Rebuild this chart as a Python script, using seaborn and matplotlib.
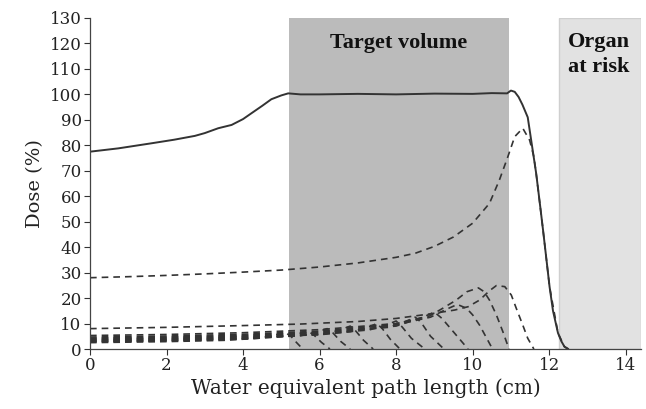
import matplotlib
matplotlib.use("Agg")
import matplotlib.pyplot as plt
import seaborn as sns
import pandas as pd

# ---- data ----
x_ticks = [0, 2, 4, 6, 8, 10, 12, 14]
y_ticks = list(range(0, 131, 10))

target_volume = (5.2, 10.95)
organ_at_risk = (12.25, 14.4)

sobp_x = [0, 0.74, 1.61, 2.2, 2.74, 3.0, 3.35, 3.7, 4.0, 4.22, 4.5, 4.74, 5.0, 5.18, 5.5, 6, 7, 8, 9, 10,
          10.5, 10.9, 11.0, 11.1, 11.2, 11.3, 11.44, 11.55, 11.66, 11.75, 11.84, 11.93, 12.01, 12.1, 12.23,
          12.32, 12.4, 12.5]
sobp_y = [77.5, 78.8, 80.8, 82.2, 83.7, 84.8, 86.7, 88, 90.3, 92.6, 95.5, 98.1, 99.6, 100.4, 100, 100,
          100.2, 100, 100.3, 100.2, 100.5, 100.4, 101.5, 101, 99, 96, 91, 80, 69, 58, 46.7, 35, 24.5, 15,
          6.3, 3, 0.9, 0]

peak12_x = [0, 1, 2, 3, 4, 5, 6, 7, 8, 8.5, 9, 9.5, 10, 10.44, 10.7, 10.92, 11.1, 11.31, 11.49, 11.6,
            11.66, 11.84, 12.01, 12.23, 12.4, 12.5]
peak12_y = [28, 28.4, 28.9, 29.5, 30.2, 31.0, 32.2, 33.8, 36, 37.6, 40.3, 44, 49.4, 57.2, 66.4, 75.5,
            83.4, 86.7, 82, 75.5, 69, 46.7, 24.5, 6.3, 0.9, 0]

peak1_x = [0, 2, 3.5, 4.4, 4.8, 5.1, 5.25, 5.4, 5.56]
peak1_y = [2.5, 2.9, 3.4, 4.2, 5.3, 6.5, 5.0, 2.5, 0]
peak2_x = [0, 2, 4, 5.0, 5.4, 5.7, 5.85, 6.05, 6.27]
peak2_y = [2.8, 3.2, 3.9, 4.8, 5.8, 7.0, 5.5, 2.6, 0]
peak3_x = [0, 2, 4, 5.5, 5.9, 6.2, 6.35, 6.55, 6.8]
peak3_y = [3.0, 3.4, 4.1, 5.2, 6.5, 8.0, 6.3, 3.0, 0]
peak4_x = [0, 2, 4, 6.1, 6.5, 6.8, 6.95, 7.15, 7.4]
peak4_y = [3.2, 3.6, 4.3, 5.8, 7.3, 9.0, 7.0, 3.4, 0]
peak5_x = [0, 2, 4, 6.0, 6.8, 7.2, 7.5, 7.65, 7.85, 8.1]
peak5_y = [3.5, 3.9, 4.6, 5.6, 6.8, 8.2, 10.0, 7.8, 3.8, 0]
peak6_x = [0, 2, 4, 6, 7.3, 7.7, 8.0, 8.15, 8.4, 8.75]
peak6_y = [3.7, 4.1, 4.8, 5.8, 7.5, 9.2, 11.0, 8.8, 4.2, 0]
peak7_x = [0, 2, 4, 6, 7.8, 8.2, 8.5, 8.65, 8.9, 9.25]
peak7_y = [4.0, 4.4, 5.1, 6.2, 8.5, 10.5, 12.5, 10.5, 5.0, 0]
peak8_x = [0, 2, 4, 6, 8.0, 8.7, 9.0, 9.2, 9.5, 9.88]
peak8_y = [4.3, 4.7, 5.4, 6.6, 9.0, 12.5, 14.5, 12.0, 6.7, 0]
peak9_x = [0, 2, 4, 6, 8, 8.9, 9.3, 9.6, 9.84, 10.0, 10.18, 10.52]
peak9_y = [4.7, 5.1, 5.8, 7.0, 9.5, 12.5, 15.5, 17.5, 16.0, 13.4, 9.4, 0]
peak10_x = [0, 2, 4, 6, 8, 8.88, 9.22, 9.57, 9.85, 10.15, 10.3, 10.44, 10.62, 10.79, 10.95]
peak10_y = [5.3, 5.7, 6.4, 7.6, 10.0, 13.0, 16.0, 19.2, 22.5, 24.0, 22.5, 19.2, 13.4, 6.8, 0]
peak11_x = [0, 2, 4, 5.5, 7, 8, 8.9, 9.53, 9.88, 10.18, 10.45, 10.62, 10.84, 11.01, 11.14, 11.31,
            11.44, 11.6]
peak11_y = [8.0, 8.5, 9.2, 9.8, 10.8, 12.0, 13.8, 15.3, 16.6, 19.2, 23.0, 24.9, 24.5, 21.2, 16.0, 9.4,
            4.2, 0]

pristine = [
    (peak1_x, peak1_y), (peak2_x, peak2_y), (peak3_x, peak3_y), (peak4_x, peak4_y),
    (peak5_x, peak5_y), (peak6_x, peak6_y), (peak7_x, peak7_y), (peak8_x, peak8_y),
    (peak9_x, peak9_y), (peak10_x, peak10_y), (peak11_x, peak11_y), (peak12_x, peak12_y),
]

# ---- style ----
sns.set_style("ticks")
plt.rcParams["font.family"] = ["DejaVu Serif", "Liberation Serif"]

fig = plt.figure(figsize=(6.46, 4.09), dpi=100)
ax = fig.add_axes([90 / 646, 60 / 409, (641 - 90) / 646, (349 - 18) / 409])

ax.axvspan(*target_volume, color="#bbbbbb", lw=0, zorder=0)
ax.axvspan(*organ_at_risk, facecolor="#e2e2e2", edgecolor="#cfcfcf", lw=1.0, zorder=0)

line_col = "#333333"
for px, py in pristine:
    df = pd.DataFrame({"x": px, "y": py})
    sns.lineplot(data=df, x="x", y="y", ax=ax, color=line_col, lw=1.2,
                 linestyle=(0, (4, 3)), estimator=None, sort=False)

df_sobp = pd.DataFrame({"x": sobp_x, "y": sobp_y})
sns.lineplot(data=df_sobp, x="x", y="y", ax=ax, color=line_col, lw=1.4,
             estimator=None, sort=False)

ax.set_xlim(0, 14.4)
ax.set_ylim(0, 130)
ax.set_xticks(x_ticks)
ax.set_yticks(y_ticks)
ax.tick_params(axis="both", labelsize=12, length=4, width=0.8, colors="#333333",
               labelcolor="#222222", pad=2)
for s in ["top", "right"]:
    ax.spines[s].set_visible(False)
for s in ["left", "bottom"]:
    ax.spines[s].set_color("#444444")
    ax.spines[s].set_linewidth(0.9)

ax.set_xlabel("Water equivalent path length (cm)", fontsize=14.4, color="#222222", labelpad=3)
ax.set_ylabel("Dose (%)", fontsize=14, color="#222222", labelpad=4)

bold_font = ["Liberation Serif", "DejaVu Serif"]
ax.text(8.07, 120.3, "Target volume", ha="center", va="center", fontsize=16,
        fontweight="bold", color="#111111", family=bold_font)
ax.text(13.3, 120.5, "Organ", ha="center", va="center", fontsize=16,
        fontweight="bold", color="#111111", family=bold_font)
ax.text(13.3, 110.6, "at risk", ha="center", va="center", fontsize=16,
        fontweight="bold", color="#111111", family=bold_font)

fig.savefig("out.png", dpi=100)
